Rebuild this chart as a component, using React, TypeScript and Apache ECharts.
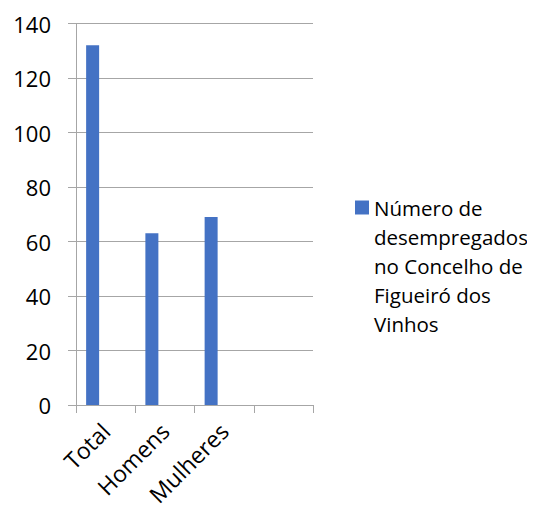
import React, { useEffect, useRef } from "react";
import * as echarts from "echarts";

const categories = ["Total", "Homens", "Mulheres", ""];
const seriesName = "Número de\ndesempregados\nno Concelho de\nFigueiró dos\nVinhos";
const values = [132, 63, 69, null];
const emptyA = [null, null, null, null];
const emptyB = [null, null, null, null];
const yTicks = { min: 0, max: 140, interval: 20 };

const FONT = "Open Sans";
const AXIS = "#a6a6a6";

export default function App() {
  const ref = useRef<HTMLDivElement>(null);
  useEffect(() => {
    if (!ref.current) return;
    const chart = echarts.init(ref.current, null, { renderer: "svg" });
    chart.setOption({
      animation: false,
      textStyle: { fontFamily: FONT },
      grid: {
        left: 76,
        right: 222,
        top: 23.5,
        bottom: 107,
        containLabel: false,
        outerBoundsMode: "none",
      },
      legend: {
        data: [seriesName],
        orient: "vertical",
        left: 355,
        top: 77,
        padding: 0,
        itemWidth: 14,
        itemHeight: 14,
        itemGap: 0,
        icon: "rect",
        formatter: (n: string) => "\n\n\n\n" + n,
        textStyle: {
          fontFamily: FONT,
          fontSize: 20.5,
          color: "#000",
          lineHeight: 29,
        },
      },
      xAxis: {
        type: "category",
        data: categories,
        boundaryGap: true,
        axisLine: { show: true, lineStyle: { color: AXIS, width: 1 } },
        axisTick: { show: true, alignWithLabel: false, length: 8, lineStyle: { color: AXIS } },
        axisLabel: {
          rotate: 45,
          interval: 0,
          margin: 22,
          fontFamily: FONT,
          fontSize: 23,
          color: "#000",
        },
        splitLine: { show: false },
      },
      yAxis: {
        type: "value",
        min: yTicks.min,
        max: yTicks.max,
        interval: yTicks.interval,
        axisLine: { show: true, lineStyle: { color: AXIS, width: 1 } },
        axisTick: { show: true, length: 8, lineStyle: { color: AXIS } },
        axisLabel: { fontFamily: FONT, fontSize: 22, color: "#000", margin: 25 },
        splitLine: { show: true, lineStyle: { color: AXIS, width: 1 } },
      },
      series: [
        {
          name: seriesName,
          type: "bar",
          data: values,
          barWidth: 13,
          barGap: "0%",
          itemStyle: { color: "#4472C4" },
        },
        { name: "s2", type: "bar", data: emptyA, barWidth: 13, barGap: "0%" },
        { name: "s3", type: "bar", data: emptyB, barWidth: 13, barGap: "0%" },
      ],
    });
    return () => chart.dispose();
  }, []);
  return <div ref={ref} style={{ width: 535, height: 512, margin: -8 }} />;
}
